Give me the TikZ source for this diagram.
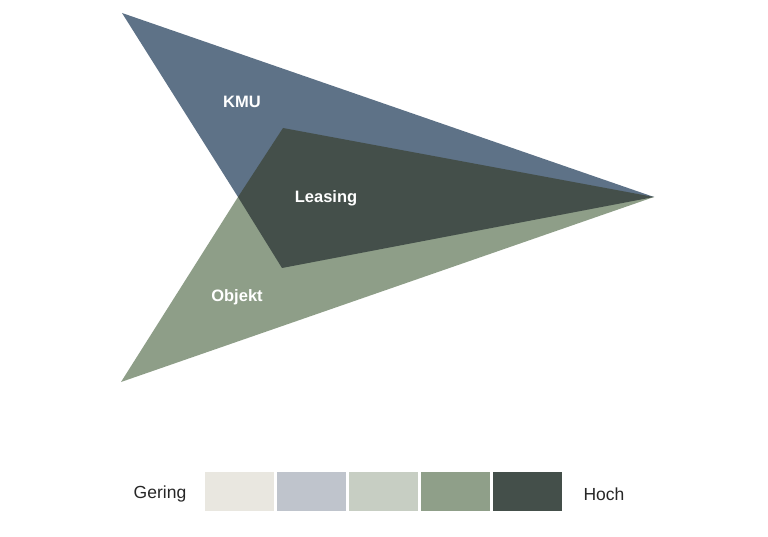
\documentclass[tikz,border=0pt]{standalone}
\usepackage{fontspec}
\setmainfont{Liberation Sans}
\definecolor{kmublue}{HTML}{5E7287}
\definecolor{leasdark}{HTML}{444F4A}
\definecolor{objgreen}{HTML}{8E9E88}
\definecolor{lg1}{HTML}{E9E7E0}
\definecolor{lg2}{HTML}{BFC4CC}
\definecolor{lg3}{HTML}{C7CEC3}
\definecolor{lg4}{HTML}{8F9F89}
\definecolor{lg5}{HTML}{444F4A}
\begin{document}
\begin{tikzpicture}[x=1pt,y=-1pt,
  lbl/.style={text=white,font=\fontsize{16.5}{18}\selectfont\bfseries,inner sep=0pt},
  legtxt/.style={text=black!85,font=\fontsize{17.5}{20}\selectfont,inner sep=0pt},
  legbox/.style={minimum width=69pt,minimum height=39pt,inner sep=0pt,draw=none}]
\useasboundingbox (0,0) rectangle (768,537);
\coordinate (tl) at (122,13);
\coordinate (mid) at (238,197);
\coordinate (tip) at (654,197);
\coordinate (bl) at (121,382);
\coordinate (lt) at (283,128);
\coordinate (lb) at (282,268);
\fill[kmublue] (tl) -- (mid) -- (tip) -- cycle;
\fill[objgreen] (mid) -- (bl) -- (tip) -- cycle;
\fill[leasdark] (lt) -- (mid) -- (lb) -- (tip) -- cycle;
\node[lbl] (kmu) at (242,102) {KMU};
\node[lbl] (leasing) at (326,198) {Leasing};
\node[lbl] (objekt) at (237,297) {Objekt};
\node[legbox,fill=lg1] (b1) at (239.5,491.5) {};
\node[legbox,fill=lg2] (b2) at (311.5,491.5) {};
\node[legbox,fill=lg3] (b3) at (383.5,491.5) {};
\node[legbox,fill=lg4] (b4) at (455.5,491.5) {};
\node[legbox,fill=lg5] (b5) at (527,491.5) {};
\node[legtxt] (gering) at (160,494) {Gering};
\node[legtxt] (hoch) at (604,494) {Hoch};
\end{tikzpicture}
\end{document}
